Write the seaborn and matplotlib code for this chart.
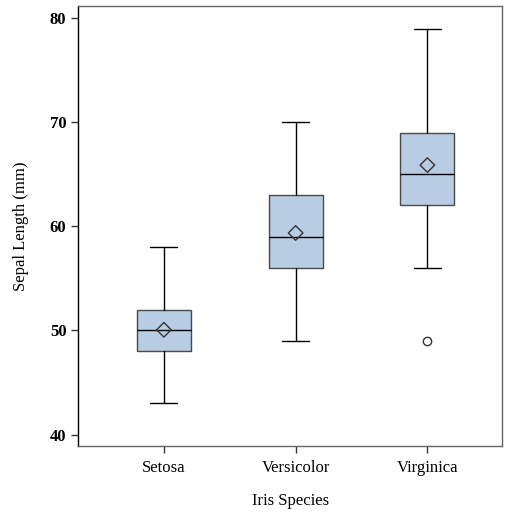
import numpy as np
import matplotlib
matplotlib.use("Agg")
import matplotlib.pyplot as plt
import seaborn as sns

# summary stats (Sepal length, mm)
species = ["Setosa", "Versicolor", "Virginica"]
whisker_low = [43, 49, 56]
q1 = [48, 56, 62]
median = [50, 59, 65]
q3 = [52, 63, 69]
whisker_high = [58, 70, 79]
mean = [50.06, 59.36, 65.88]
outliers = [[], [], [49]]

sns.set_style("white")
plt.rcParams["font.family"] = ["Liberation Serif", "DejaVu Serif"]
plt.rcParams["text.color"] = "black"
plt.rcParams["axes.labelcolor"] = "black"

stats = []
for i, name in enumerate(species):
    stats.append({"label": name, "whislo": whisker_low[i], "q1": q1[i],
                  "med": median[i], "q3": q3[i], "whishi": whisker_high[i],
                  "fliers": outliers[i]})

fig = plt.figure(figsize=(5.05, 5.12), dpi=100)
ax = fig.add_axes([0.155, 0.129, 0.84, 0.859])

pos = np.arange(len(species))
ax.bxp(stats, positions=pos, widths=0.41, patch_artist=True,
       boxprops=dict(facecolor="#B8CCE4", edgecolor="#4a4a4a", linewidth=1),
       medianprops=dict(color="black", linewidth=1),
       whiskerprops=dict(color="black", linewidth=1),
       capprops=dict(color="black", linewidth=1),
       flierprops=dict(marker="o", markerfacecolor="none",
                       markeredgecolor="#333333", markersize=6))
ax.set_xticks(pos)
ax.set_xticklabels(species)

sns.scatterplot(x=pos, y=mean, marker="D", s=55, facecolor="none",
                edgecolor="#333333", linewidth=1, ax=ax, zorder=5)

ax.set_xlim(-0.65, 2.57)
ax.set_ylim(38.9, 81.15)
ax.set_yticks([40, 50, 60, 70, 80])
ax.set_xlabel("Iris Species", fontsize=12, labelpad=12)
ax.set_ylabel("Sepal Length (mm)", fontsize=12, labelpad=15)
ax.tick_params(axis="both", length=5, width=1, color="#333333",
               labelcolor="black", bottom=True, left=True)
ax.tick_params(axis="y", labelsize=12)
ax.tick_params(axis="x", labelsize=12, pad=5)
for lbl in ax.get_yticklabels():
    lbl.set_fontweight("bold")
for s in ax.spines.values():
    s.set_color("#666666")
    s.set_linewidth(1)
ax.spines["left"].set_color("black")

fig.savefig("out.png", dpi=100)
